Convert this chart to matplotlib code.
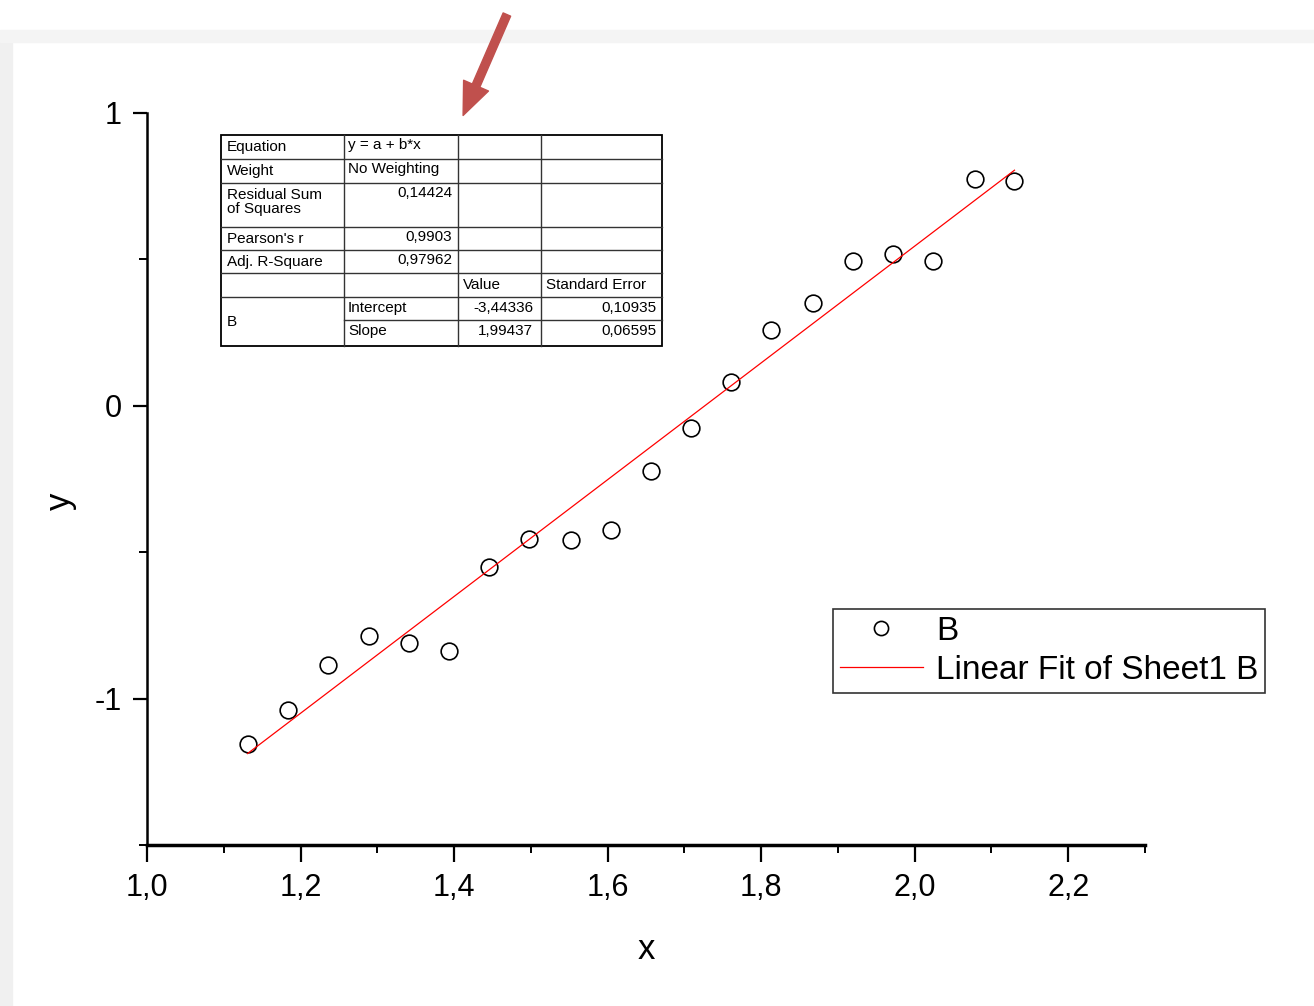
import matplotlib.pyplot as plt
from matplotlib.patches import Rectangle, FancyArrowPatch
from matplotlib.ticker import MultipleLocator, FixedLocator

# datos
x_vals = [1.131, 1.184, 1.236, 1.289, 1.341, 1.394, 1.446, 1.498, 1.552, 1.604,
          1.656, 1.709, 1.761, 1.813, 1.867, 1.919, 1.972, 2.024, 2.078, 2.130]
y_vals = [-1.156, -1.039, -0.885, -0.786, -0.810, -0.838, -0.550, -0.455, -0.458, -0.424,
          -0.222, -0.075, 0.082, 0.260, 0.352, 0.496, 0.520, 0.496, 0.776, 0.769]

intercepto = -3.44336
pendiente = 1.99437

tabla_izq = ["Equation", "Weight", "Residual Sum\nof Squares", "Pearson's r", "Adj. R-Square"]
tabla_val = ["y = a + b*x", "No Weighting", "0,14424", "0,9903", "0,97962"]
param_nombres = ["Intercept", "Slope"]
param_valores = ["-3,44336", "1,99437"]
param_errores = ["0,10935", "0,06595"]

plt.rcParams['font.family'] = ['Liberation Sans', 'DejaVu Sans']

W, H = 1314, 1006
fig = plt.figure(figsize=(W / 100, H / 100), dpi=100)

# marco gris de la captura
fig.patches.append(Rectangle((0, 0), 12 / W, 1 - 32 / H, transform=fig.transFigure,
                             color='#f0f0f0', zorder=0))
fig.patches.append(Rectangle((0, 1 - 42 / H), 1, 12 / H, transform=fig.transFigure,
                             color='#f4f4f4', zorder=0))

ax = fig.add_axes([147 / W, 1 - 845 / H, (1145 - 147) / W, (845 - 113) / H])

ax.plot(x_vals, y_vals, 'o', mfc='none', mec='black', ms=12, mew=1.2, label='B')
xs = [min(x_vals), max(x_vals)]
ax.plot(xs, [intercepto + pendiente * v for v in xs], color='red', lw=0.9,
        label='Linear Fit of Sheet1 B')

ax.set_xlim(1.0, 2.3)
ax.set_ylim(-1.5, 1.0)
ax.xaxis.set_major_locator(FixedLocator([1.0, 1.2, 1.4, 1.6, 1.8, 2.0, 2.2]))
ax.xaxis.set_minor_locator(MultipleLocator(0.1))
ax.yaxis.set_major_locator(FixedLocator([-1, 0, 1]))
ax.yaxis.set_minor_locator(FixedLocator([-1.5, -0.5, 0.5]))
ax.set_xticklabels(["1,0", "1,2", "1,4", "1,6", "1,8", "2,0", "2,2"])
ax.set_yticklabels(["-1", "0", "1"])

for s in ['top', 'right']:
    ax.spines[s].set_visible(False)
ax.spines['bottom'].set_linewidth(2.5)
ax.spines['left'].set_linewidth(1.8)
ax.tick_params(which='major', direction='out', length=12, width=1.6, labelsize=22, pad=8)
ax.tick_params(which='minor', direction='out', length=6, width=1.4)
ax.tick_params(axis='y', which='major', length=10, pad=8)

ax.set_xlabel("x", fontsize=25, labelpad=22)
ax.set_ylabel("y", fontsize=25)
ax.yaxis.set_label_coords(-0.07, 0.47)

leg = ax.legend(loc='upper left', bbox_to_anchor=((833 - 147) / (1145 - 147), (845 - 609) / (845 - 113)),
                fontsize=24, frameon=True, fancybox=False, edgecolor='black',
                handlelength=2.5, handletextpad=0.4, borderpad=0.2, labelspacing=0.25,
                markerscale=0.85, borderaxespad=0)
leg.get_frame().set_linewidth(1.2)

# tabla de resultados del ajuste
cols = [221, 344, 458, 541, 662]
filas = [135, 159, 183, 227, 250, 273, 297, 320, 346]


def fx(px):
    return px / W


def fy(py):
    return 1 - py / H


lc = dict(color='#333333', lw=1.0, transform=fig.transFigure)
fig.add_artist(Rectangle((fx(221), fy(346)), fx(662) - fx(221), fy(135) - fy(346),
                         transform=fig.transFigure, fill=False, ec='black', lw=1.3))
for r in filas[1:-1]:
    x0 = cols[0] if r != 320 else cols[1]
    fig.add_artist(plt.Line2D([fx(x0), fx(662)], [fy(r), fy(r)], **lc))
for c in cols[1:-1]:
    fig.add_artist(plt.Line2D([fx(c), fx(c)], [fy(135), fy(346)], **lc))

fs = 11
for i, (etq, val) in enumerate(zip(tabla_izq, tabla_val)):
    top = filas[i]
    fig.text(fx(227), fy(top + 5), etq, fontsize=fs, va='top', ha='left', linespacing=1.0)
    if i < 2:
        fig.text(fx(348), fy(top + 3), val, fontsize=fs, va='top', ha='left')
    else:
        fig.text(fx(452), fy(top + 3), val, fontsize=fs, va='top', ha='right')
fig.text(fx(463), fy(278), "Value", fontsize=fs, va='top', ha='left')
fig.text(fx(546), fy(278), "Standard Error", fontsize=fs, va='top', ha='left')
fig.text(fx(227), fy(322), "B", fontsize=fs, va='center', ha='left')
for j in range(2):
    top = filas[6 + j]
    fig.text(fx(348), fy(top + 4), param_nombres[j], fontsize=fs, va='top', ha='left')
    fig.text(fx(533), fy(top + 4), param_valores[j], fontsize=fs, va='top', ha='right')
    fig.text(fx(656), fy(top + 4), param_errores[j], fontsize=fs, va='top', ha='right')

# flecha roja
fig.add_artist(FancyArrowPatch(
    (fx(508), fy(12)), (fx(462), fy(118)), transform=fig.transFigure,
    arrowstyle='simple,head_width=1.5,head_length=1.8,tail_width=0.45',
    mutation_scale=13, color='#c0504d'))

fig.savefig("out.png", dpi=100)
